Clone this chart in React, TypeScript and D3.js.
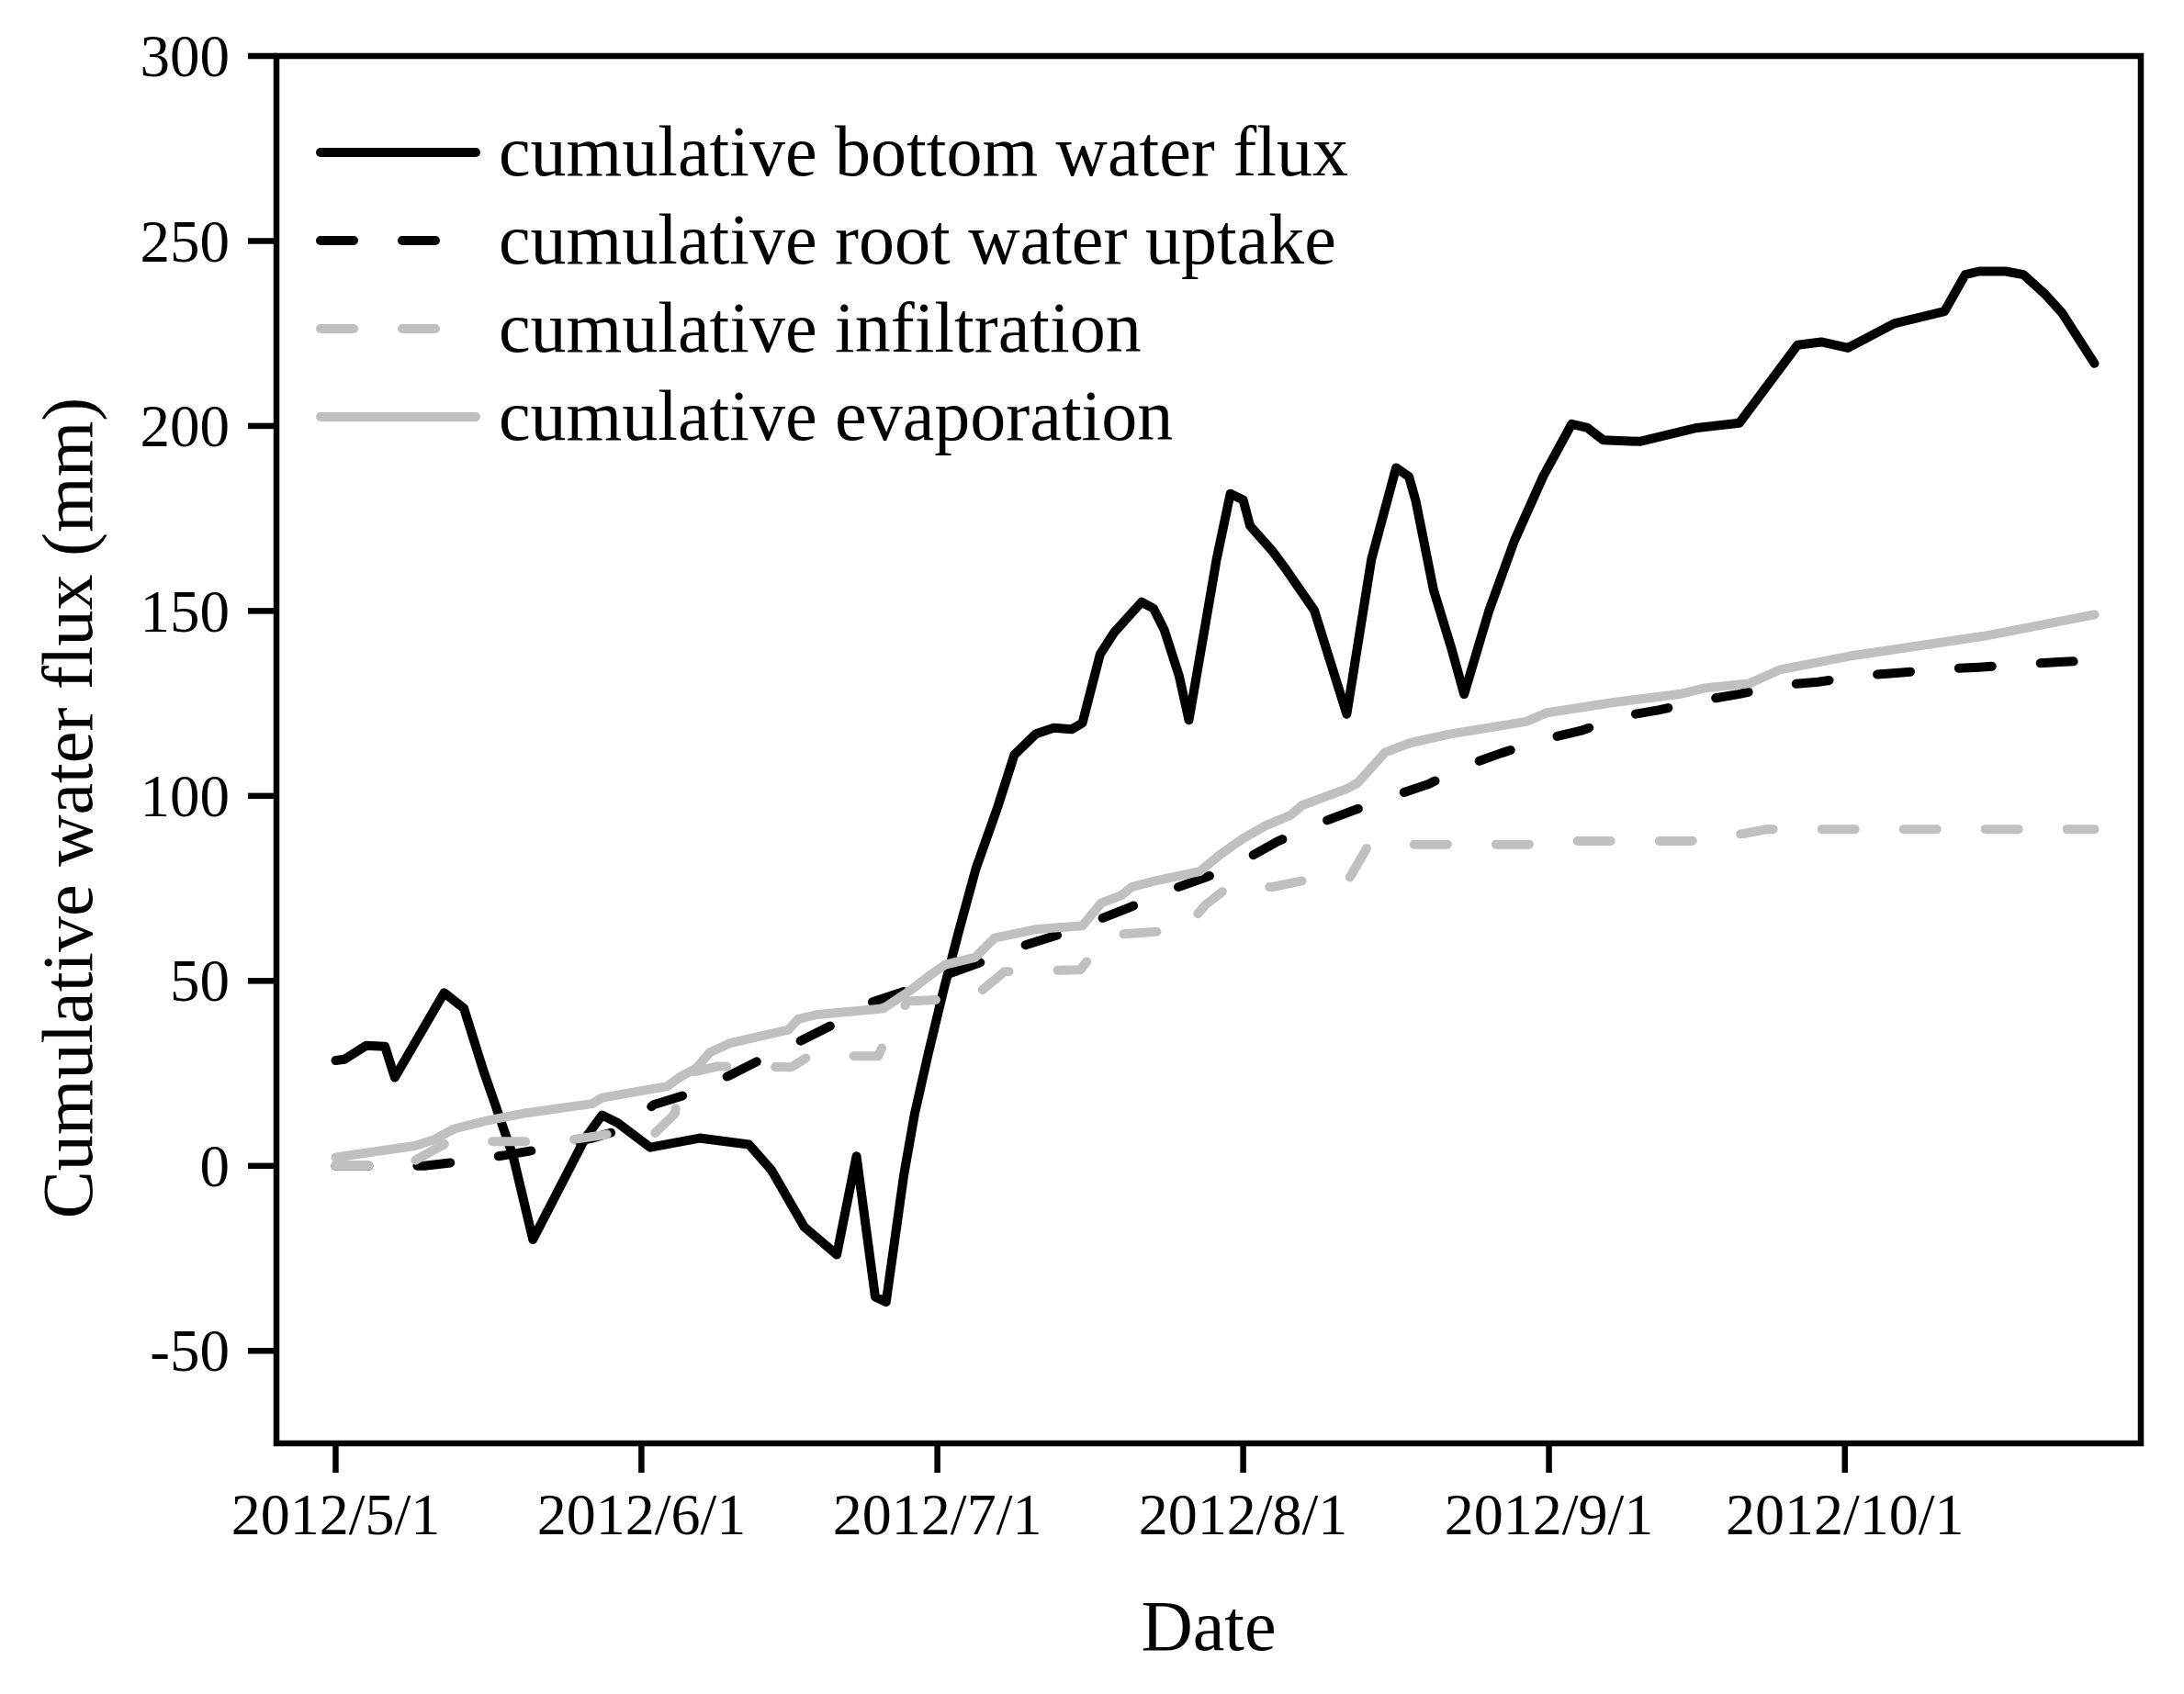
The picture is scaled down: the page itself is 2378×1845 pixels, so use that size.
import React from "react";
import * as d3 from "d3";

// ---- data (day offset from 2012-05-01, cumulative value in mm) ----
const bottomFlux: [number, number][] = [
  [0, 28.5], [0.9, 28.8], [3.1, 32.5], [5, 32.3], [6, 23.9], [11, 46.8], [13, 42.6],
  [15, 25.6], [16.6, 13.3], [18, 2.5], [20, -19.9], [25.3, 7.5], [27, 13.7], [28.6, 11.6],
  [31.9, 5.0], [36.9, 7.5], [41.9, 5.8], [44.2, -1.2], [47.5, -16.5], [50.8, -24],
  [52.8, 2.6], [54.7, -35.4], [55.8, -36.8], [57.6, -2.5], [58.7, 14.1], [60.1, 30.6],
  [61.6, 47.2], [63.2, 63.7], [64.9, 80.3], [67.1, 96.9], [68.8, 111.1], [71, 116.8],
  [72.8, 118.4], [74.6, 118], [75.7, 119.7], [77.5, 138.3], [78.9, 144.1], [81.7, 152.4],
  [82.9, 150.7], [84, 144.9], [85.5, 132.5], [86.5, 120.5], [89.3, 163.9], [90.7, 181.7],
  [92, 180], [92.7, 173], [94.9, 166.4], [96.3, 161.4], [99.2, 150.2], [102.5, 122.1],
  [105, 163.9], [107.5, 188.7], [108.8, 186.3], [109.5, 179.7], [111.3, 155.7],
  [113.1, 140], [114.4, 127.5], [116.9, 149.9], [119.5, 169], [122.4, 186.3],
  [125.3, 200.5], [126.9, 199.5], [128.5, 196.2], [132.2, 195.8], [138, 199.5],
  [142.3, 200.8], [148.2, 221.9], [150.6, 222.7], [153.3, 221.1], [158, 227.7],
  [163.1, 231], [165.2, 240.9], [166.6, 241.8], [169.3, 241.8], [171.1, 240.9],
  [173.3, 235.6], [175, 230.6], [178.3, 216.9],
];

const rootUptake: [number, number][] = [
  [0, 0], [9, 0], [12.8, 1.2], [17.2, 2.9], [21, 4.6], [26, 7.5], [28.6, 9.5],
  [32.3, 16.6], [36.1, 19.7], [39.9, 24.4], [43.6, 29.4], [47.3, 34], [50.8, 38.7],
  [54.5, 44.4], [57.8, 47.3], [61.8, 51.6], [65.8, 55.4], [69.8, 59.6], [73.3, 62.5],
  [77.1, 66.3], [80.7, 70.1], [84.4, 74.4], [88.4, 78.2], [92, 82.5], [95.5, 87.7],
  [99.4, 92.3], [103, 95.9], [107.2, 100], [110.8, 103.2], [114.6, 108.2],
  [118.2, 111.6], [122.5, 115.3], [126.2, 117.6], [130.4, 121.5], [134.1, 123.2],
  [138.5, 125.8], [142.2, 127.5], [146.7, 130], [150.3, 130.8], [154.7, 132.5],
  [158.5, 133.3], [162.9, 134.3], [166.6, 134.8], [171.2, 135.6], [174.7, 136.2],
  [178.3, 136.6],
];

const infiltration: [number, number][] = [
  [0, 0], [4.6, 0], [7.3, 0], [8.2, 1.7], [11.5, 6.6], [19.8, 6.6], [24, 7.1],
  [28, 8.7], [32.3, 8.7], [34.4, 14.1], [34.8, 24.4], [38.7, 26.9], [46.2, 26.7],
  [48, 29.7], [55, 29.7], [56.2, 36.9], [58, 44.5], [61, 44.9], [65, 46.3],
  [67.8, 52.5], [75.5, 53], [77.7, 60.6], [79, 62.5], [86, 63.8], [88.2, 70.6],
  [90.5, 75.4], [95, 75.4], [98.8, 77.5], [102.8, 77.9], [104.6, 86.2], [109, 86.9],
  [121, 86.9], [125.3, 87.8], [137.4, 87.8], [142.7, 89.8], [145.1, 91.0], [178.3, 91],
];

const evaporation: [number, number][] = [
  [0, 2.3], [8, 5.4], [10, 7.1], [12, 10.0], [15.3, 12.2], [19.3, 14.3], [26, 16.8],
  [27, 18.4], [33.6, 21.5], [34.9, 24.0], [36.6, 26.5], [37.9, 30.6], [39.9, 33.1],
  [42.6, 34.8], [45.9, 36.8], [46.9, 39.7], [48.8, 40.9], [55.5, 42.5], [58.2, 47.3],
  [60.5, 52], [61.8, 54.4], [64.8, 56.3], [66.8, 61.6], [71.1, 64], [75.7, 64.9],
  [77.6, 71], [79.7, 73.2], [80.7, 75.4], [82.9, 76.9], [87.6, 79.6], [89.8, 84.4],
  [92, 88.5], [94.3, 92], [96.8, 94.8], [98, 97.5], [102.4, 101.8], [103.6, 103.5],
  [106.4, 111.8], [108.9, 114.3], [112.9, 116.7], [120.7, 120.1], [122.8, 122.5],
  [129.9, 125.4], [136.2, 127.5], [138.9, 129.2], [143.3, 130.4], [146.4, 134.1],
  [153.5, 137.8], [167.1, 143.2], [178.3, 149],
];

const xTickLabels = ["2012/5/1", "2012/6/1", "2012/7/1", "2012/8/1", "2012/9/1", "2012/10/1"];
const xTickMonths = [4, 5, 6, 7, 8, 9];
const yTicks = [-50, 0, 50, 100, 150, 200, 250, 300];

const seriesLabels = [
  "cumulative bottom water flux",
  "cumulative root water uptake",
  "cumulative infiltration",
  "cumulative evaporation",
];
const seriesColors = ["#000000", "#000000", "#c0c0c0", "#c0c0c0"];
const seriesDashed = [false, true, true, false];
const seriesData = [bottomFlux, rootUptake, infiltration, evaporation];

const W = 2378;
const H = 1845;
const FONT = "'Liberation Serif', 'Times New Roman', serif";

export default function App() {
  const x = d3
    .scaleUtc()
    .domain([new Date(Date.UTC(2012, 3, 25)), new Date(Date.UTC(2012, 9, 31))])
    .range([301, 2331]);
  const y = d3.scaleLinear().domain([-75, 300]).range([1572, 61]);
  const base = Date.UTC(2012, 4, 1);
  const toDate = (d: number) => new Date(base + d * 864e5);
  const line = d3
    .line<[number, number]>()
    .x((d) => x(toDate(d[0])))
    .y((d) => y(d[1]));

  const [x0, x1] = x.range();
  const [yb, yt] = y.range();
  const dash = "36 53";
  const lw = 10;
  const axW = 6.5;

  return (
    <svg
      width={W}
      height={H}
      style={{ position: "absolute", left: 0, top: 0, background: "#fff" }}
      fontFamily={FONT}
    >
      <rect x={0} y={0} width={W} height={H} fill="#fff" />
      {seriesData.map((data, i) => (
        <path
          key={i}
          d={line(data) || ""}
          fill="none"
          stroke={seriesColors[i]}
          strokeWidth={lw}
          strokeLinecap="round"
          strokeLinejoin="round"
          strokeDasharray={seriesDashed[i] ? dash : undefined}
        />
      ))}
      <rect
        x={x0}
        y={yt}
        width={x1 - x0}
        height={yb - yt}
        fill="none"
        stroke="#000"
        strokeWidth={axW}
      />
      {yTicks.map((v) => (
        <g key={v}>
          <line x1={x0 - 31} x2={x0} y1={y(v)} y2={y(v)} stroke="#000" strokeWidth={axW} />
          <text x={250} y={y(v)} dy="0.34em" textAnchor="end" fontSize={65} fill="#000">
            {v}
          </text>
        </g>
      ))}
      {xTickLabels.map((lab, i) => {
        const px = x(new Date(Date.UTC(2012, xTickMonths[i], 1)));
        return (
          <g key={lab}>
            <line x1={px} x2={px} y1={yb} y2={yb + 32} stroke="#000" strokeWidth={axW} />
            <text x={px} y={1671} textAnchor="middle" fontSize={64} fill="#000">
              {lab}
            </text>
          </g>
        );
      })}
      <text x={(x0 + x1) / 2} y={1797} textAnchor="middle" fontSize={78} fill="#000">
        Date
      </text>
      <text
        transform={`translate(100, 880) rotate(-90)`}
        textAnchor="middle"
        fontSize={78}
        fill="#000"
      >
        Cumulative water flux (mm)
      </text>
      {seriesLabels.map((lab, i) => {
        const ly = 166 + i * 96;
        return (
          <g key={lab}>
            <line
              x1={349}
              x2={seriesDashed[i] ? 474 : 518}
              y1={ly}
              y2={ly}
              stroke={seriesColors[i]}
              strokeWidth={lw}
              strokeLinecap="round"
              strokeDasharray={seriesDashed[i] ? dash : undefined}
            />
            <text x={543} y={ly + 25} fontSize={78} fill="#000">
              {lab}
            </text>
          </g>
        );
      })}
    </svg>
  );
}
